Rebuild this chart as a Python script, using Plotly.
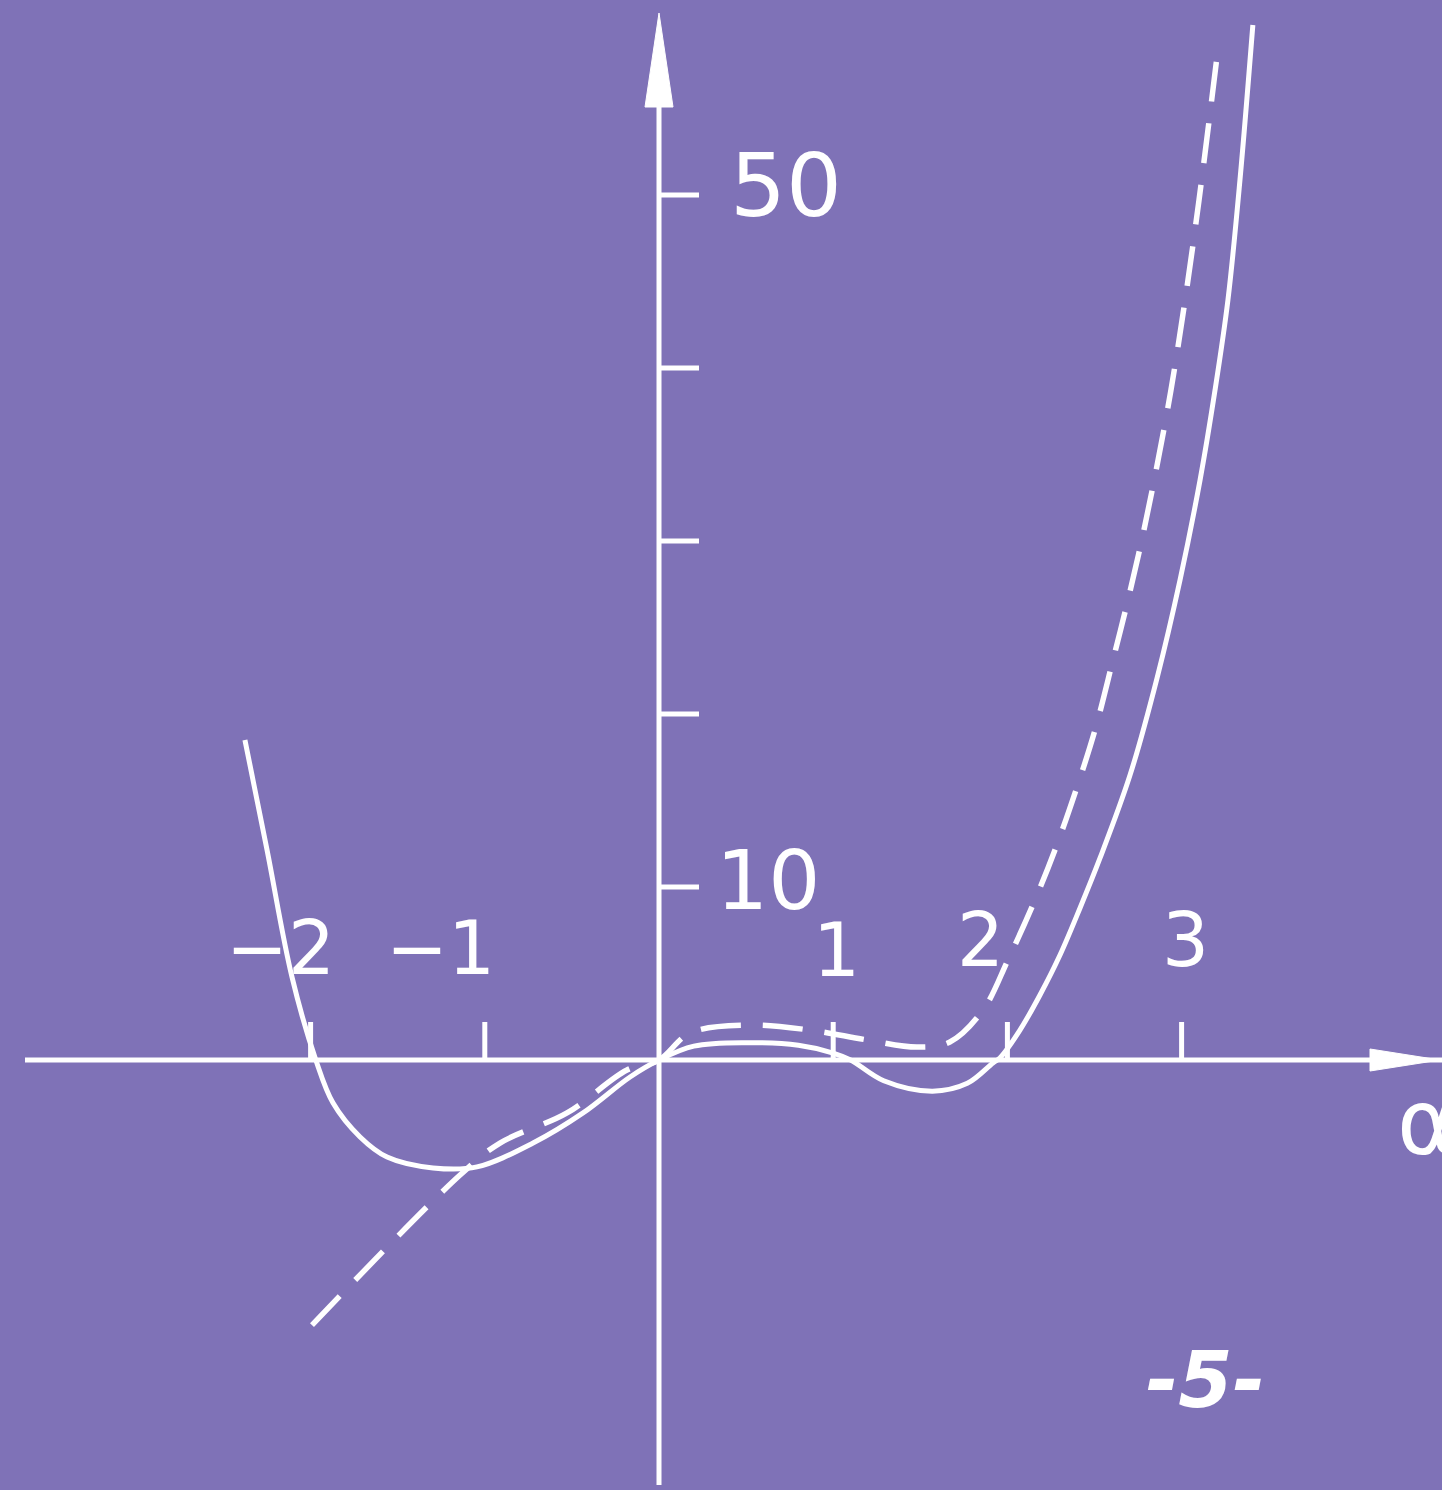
import plotly.graph_objects as go

# Solid curve: alpha vs value
solid_alpha = [-2.377, -2.25, -2.107, -1.97, -1.871, -1.716, -1.561, -1.297, -1.045,
               -0.723, -0.436, -0.166, 0.0, 0.2, 0.5, 0.8, 1.0, 1.1, 1.29, 1.57, 1.77,
               1.917, 1.957, 2.072, 2.187, 2.302, 2.417, 2.532, 2.704, 2.859, 2.991,
               3.106, 3.192, 3.266, 3.335, 3.409]
solid_value = [18.5, 12.14, 4.8, 0.0, -2.49, -4.45, -5.61, -6.24, -6.18,
               -4.8, -3.06, -0.98, 0.0, 0.8, 1.0, 0.85, 0.4, 0.0, -1.2, -1.8, -1.35,
               -0.17, 0.12, 1.73, 3.76, 6.07, 8.79, 11.68, 16.47, 22.08, 27.75,
               33.53, 38.73, 43.93, 50.87, 59.83]

# Dashed curve: alpha vs value
dashed_alpha = [-1.992, -1.142, -0.913, -0.528, -0.184, 0.0, 0.178, 0.522, 0.867,
                1.194, 1.481, 1.67, 1.86, 2.003, 2.158, 2.273, 2.394, 2.503, 2.606,
                2.692, 2.784, 2.865, 2.939, 3.02, 3.1, 3.203]
dashed_value = [-15.32, -6.65, -4.8, -3.06, -0.58, 0.0, 1.56, 2.02, 1.73,
                1.16, 0.75, 1.04, 2.89, 5.78, 9.25, 12.14, 15.61, 19.08, 23.12,
                26.59, 30.64, 34.68, 38.73, 43.93, 49.71, 57.98]

x_ticks = [-2, -1, 1, 2, 3]
x_tick_labels = ["−2", "−1", "1", "2", "3"]
y_ticks = [10, 20, 30, 40, 50]
y_tick_labels = {10: "10", 50: "50"}

BG = "#7F72B7"
INK = "white"
W, H = 1442, 1490

# pixel geometry of the axes
X0_PX, X_UNIT = 659.0, 174.2
Y0_PX, Y_UNIT = 1060.0, 17.3
x_range = [-X0_PX / X_UNIT, (W - X0_PX) / X_UNIT]
y_range = [-(H - Y0_PX) / Y_UNIT, Y0_PX / Y_UNIT]

def px_x(px):
    return (px - X0_PX) / X_UNIT

def px_y(py):
    return (Y0_PX - py) / Y_UNIT

fig = go.Figure()

fig.add_trace(go.Scatter(
    x=dashed_alpha, y=dashed_value, mode="lines",
    line=dict(color=INK, width=5.5, dash="40px,22px", shape="spline", smoothing=1.0),
    hoverinfo="skip", showlegend=False))

fig.add_trace(go.Scatter(
    x=solid_alpha, y=solid_value, mode="lines",
    line=dict(color=INK, width=5, shape="spline", smoothing=1.0),
    hoverinfo="skip", showlegend=False))

shapes = []
# axes
shapes.append(dict(type="line", xref="x", yref="y", x0=px_x(25), y0=0, x1=x_range[1], y1=0,
                   line=dict(color=INK, width=5)))
shapes.append(dict(type="line", xref="x", yref="y", x0=0, y0=px_y(1485), x1=0, y1=px_y(60),
                   line=dict(color=INK, width=5)))
# arrowheads
ya_tip, ya_base = px_y(13), px_y(107)
hw = 14 / X_UNIT
shapes.append(dict(type="path", xref="x", yref="y",
                   path=f"M {-hw},{ya_base} L 0,{ya_tip} L {hw},{ya_base} Z",
                   fillcolor=INK, line=dict(color=INK, width=1)))
xa_base, xa_tip = px_x(1370), px_x(1440)
hh = 11 / Y_UNIT
shapes.append(dict(type="path", xref="x", yref="y",
                   path=f"M {xa_base},{-hh} L {xa_tip},0 L {xa_base},{hh} Z",
                   fillcolor=INK, line=dict(color=INK, width=1)))
# tick marks
for t in x_ticks:
    shapes.append(dict(type="line", xref="x", yref="y", x0=t, y0=0, x1=t, y1=38 / Y_UNIT,
                       line=dict(color=INK, width=5)))
for t in y_ticks:
    shapes.append(dict(type="line", xref="x", yref="y", x0=0, y0=t, x1=40 / X_UNIT, y1=t,
                       line=dict(color=INK, width=5)))

FONT = "DejaVu Sans"
annotations = []
x_label_px = {-2: (280, 948), -1: (440, 948), 1: (836, 950), 2: (980, 940), 3: (1185, 940)}
for t, lab in zip(x_ticks, x_tick_labels):
    cx, cy = x_label_px[t]
    annotations.append(dict(x=px_x(cx), y=px_y(cy), xref="x", yref="y", text=lab,
                            showarrow=False, xanchor="center", yanchor="middle",
                            font=dict(family=FONT, size=74, color=INK)))
y_label_px = {10: (768, 880), 50: (786, 185)}
y_label_size = {10: 82, 50: 88}
for t, lab in y_tick_labels.items():
    cx, cy = y_label_px[t]
    annotations.append(dict(x=px_x(cx), y=px_y(cy), xref="x", yref="y", text=lab,
                            showarrow=False, xanchor="center", yanchor="middle",
                            font=dict(family=FONT, size=y_label_size[t], color=INK)))
annotations.append(dict(x=px_x(1395), y=px_y(1122), xref="x", yref="y", text="α",
                        showarrow=False, xanchor="left", yanchor="middle",
                        font=dict(family=FONT, size=90, color=INK)))
annotations.append(dict(x=px_x(1205), y=px_y(1380), xref="x", yref="y", text="<b><i>-5-</i></b>",
                        showarrow=False, xanchor="center", yanchor="middle",
                        font=dict(family=FONT, size=78, color=INK)))

fig.update_layout(
    width=W, height=H,
    margin=dict(l=0, r=0, t=0, b=0),
    paper_bgcolor=BG, plot_bgcolor=BG,
    xaxis=dict(range=x_range, visible=False, fixedrange=True),
    yaxis=dict(range=y_range, visible=False, fixedrange=True),
    shapes=shapes, annotations=annotations,
    showlegend=False,
)

fig.write_html("out.html", config={"displayModeBar": False})
